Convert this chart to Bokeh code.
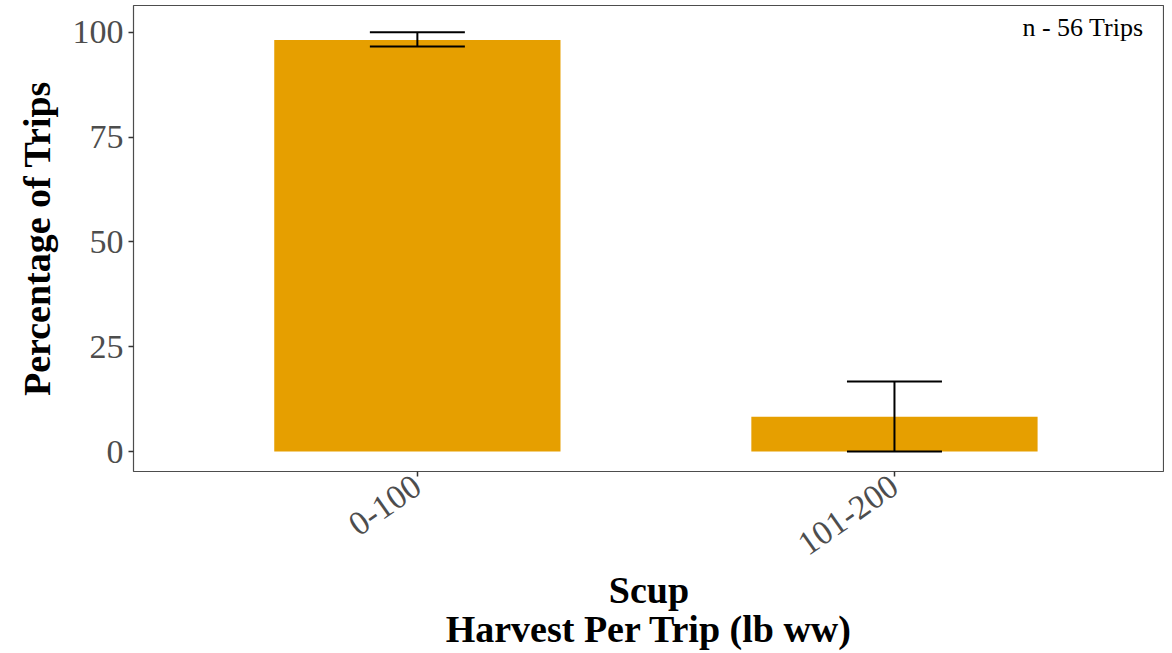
from bokeh.plotting import figure
from bokeh.models import ColumnDataSource, Whisker, TeeHead, FixedTicker, Range1d, Label
from bokeh.embed import file_html
from bokeh.resources import INLINE
import math

categories = ["0-100", "101-200"]
positions = [1, 2]
pct = [98.2, 8.3]
err_low = [96.6, 0.0]
err_high = [100.0, 16.7]
y_ticks = [0, 25, 50, 75, 100]
n_label = "n - 56 Trips"

FONT = "Liberation Serif"

src = ColumnDataSource(dict(x=positions, top=pct, lower=err_low, upper=err_high))

p = figure(width=1164, height=653, output_backend="svg", toolbar_location=None,
           x_range=Range1d(0.405, 2.566), y_range=Range1d(-4.75, 106.4),
           min_border_left=133, min_border_right=0, min_border_top=5, min_border_bottom=172)

p.vbar(x="x", top="top", bottom=0, width=0.6, source=src, fill_color="#E69F00", line_color=None)

w = Whisker(base="x", upper="upper", lower="lower", source=src, line_color="black", line_width=2,
            upper_head=TeeHead(size=95, line_color="black", line_width=2),
            lower_head=TeeHead(size=95, line_color="black", line_width=2),
            level="overlay")
p.add_layout(w)

p.xgrid.visible = False
p.ygrid.visible = False
p.outline_line_color = "#4d4d4d"
p.outline_line_width = 1.2
p.background_fill_color = "white"

p.xaxis.ticker = FixedTicker(ticks=positions)
p.xaxis.major_label_overrides = {pos: c for pos, c in zip(positions, categories)}
p.xaxis.major_label_orientation = math.radians(35)
p.yaxis.ticker = FixedTicker(ticks=y_ticks)

for ax in (p.xaxis[0], p.yaxis[0]):
    ax.axis_line_color = None
    ax.major_tick_line_color = "#333333"
    ax.major_tick_line_width = 1.5
    ax.major_tick_out = 5
    ax.major_tick_in = 0
    ax.minor_tick_line_color = None
    ax.major_label_text_font = FONT
    ax.major_label_text_font_size = "34px"
    ax.major_label_text_color = "#4d4d4d"
    ax.axis_label_text_font = FONT
    ax.axis_label_text_font_size = "38px"
    ax.axis_label_text_font_style = "bold"
    ax.axis_label_text_color = "black"

p.xaxis.axis_label = "Scup\nHarvest Per Trip (lb ww)"
p.xaxis.axis_label_text_line_height = 0.95
p.xaxis.axis_label_standoff = 0
p.xaxis.major_label_standoff = 6
p.yaxis.axis_label = "Percentage of Trips"
p.yaxis.axis_label_standoff = 12
p.yaxis.major_label_standoff = 5

p.add_layout(Label(x=2.522, y=101.2, text=n_label, text_font=FONT, text_font_size="26px",
                   text_align="right", text_baseline="middle", text_color="black"))

open("out.html", "w").write(file_html(p, INLINE))
